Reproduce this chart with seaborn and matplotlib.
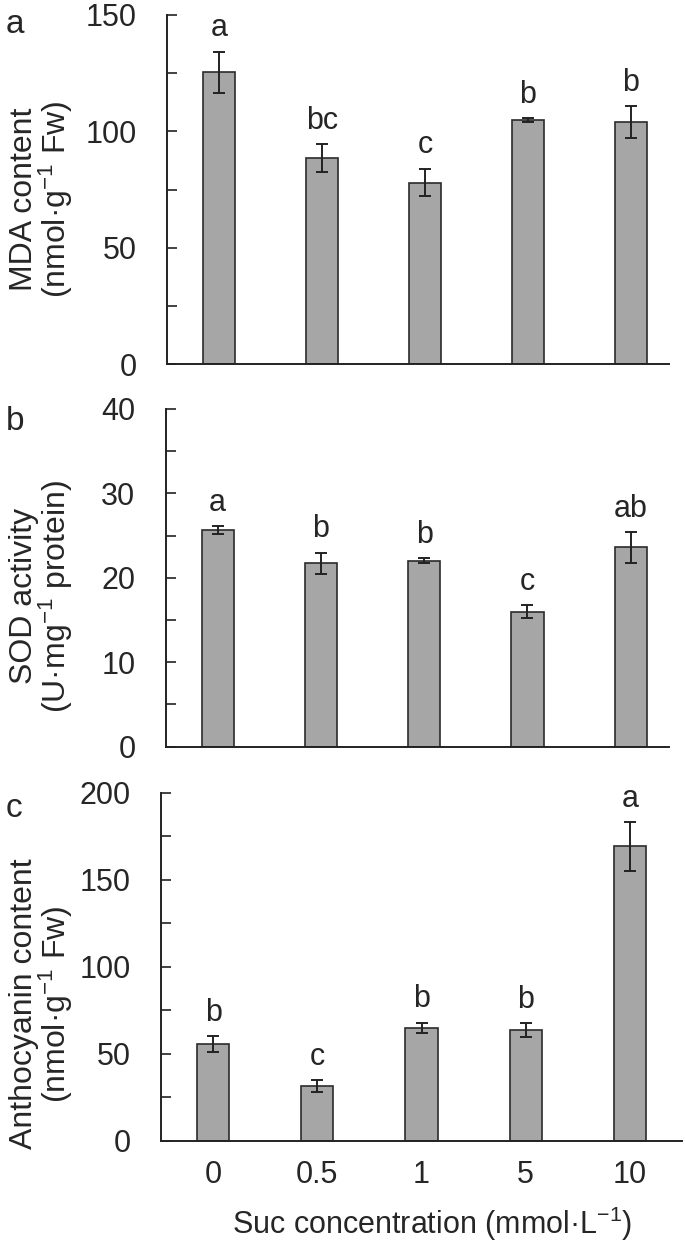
import matplotlib
matplotlib.use("Agg")
import matplotlib.pyplot as plt
import seaborn as sns
import pandas as pd
from matplotlib.ticker import MultipleLocator

# Data
conc = ["0", "0.5", "1", "5", "10"]

mda = [125.3, 88.5, 78.0, 104.8, 104.0]
mda_err = [9.0, 6.0, 6.0, 1.0, 6.7]
mda_sig = ["a", "bc", "c", "b", "b"]

sod = [25.7, 21.7, 22.0, 16.0, 23.6]
sod_err = [0.45, 1.3, 0.3, 0.8, 1.8]
sod_sig = ["a", "b", "b", "c", "ab"]

anth = [55.7, 31.4, 64.8, 63.4, 169.2]
anth_err = [4.5, 3.2, 3.0, 4.0, 14.0]
anth_sig = ["b", "c", "b", "b", "a"]

sns.set_theme(style="white")
plt.rcParams["font.family"] = ["Liberation Sans", "DejaVu Sans"]
plt.rcParams["mathtext.fontset"] = "custom"
plt.rcParams["mathtext.rm"] = "Liberation Sans"
plt.rcParams["mathtext.it"] = "Liberation Sans"

FS = 22
W, H = 685, 1241
fig = plt.figure(figsize=(W / 100, H / 100), dpi=100)


def rect(left, right, top, bottom):
    # pixel box -> figure fraction
    return [left / W, 1 - bottom / H, (right - left) / W, (bottom - top) / H]


panels = [
    # letter, values, errors, sig, ylabel, ymax, major, box, xlim, label y, letter baseline
    ("a", mda, mda_err, mda_sig, "MDA content\n(nmol·g$^{-1}$ Fw)", 150, 50,
     (167, 669, 15, 364), (-0.505, 4.37), 0.473, 33),
    ("b", sod, sod_err, sod_sig, "SOD activity\n(U·mg$^{-1}$ protein)", 40, 10,
     (166, 669, 409, 746.7), (-0.5, 4.37), 0.446, 430),
    ("c", anth, anth_err, anth_sig, "Anthocyanin content\n(nmol·g$^{-1}$ Fw)", 200, 50,
     (161, 682, 792.7, 1140.7), (-0.5, 4.5), 0.393, 817),
]

for letter, vals, errs, sig, ylab, ymax, major, box, xlim, ly, lb in panels:
    ax = fig.add_axes(rect(*box))
    df = pd.DataFrame({"conc": conc, "value": vals})
    sns.barplot(data=df, x="conc", y="value", order=conc, color="#a6a6a6",
                edgecolor="#2b2b2b", linewidth=1.2, width=0.31,
                saturation=1, errorbar=None, ax=ax)
    ax.errorbar(range(len(vals)), vals, yerr=errs, fmt="none",
                ecolor="#222222", elinewidth=1.4, capsize=4, capthick=1.4)
    for i, (v, e, s) in enumerate(zip(vals, errs, sig)):
        ax.annotate(s, (i, v + e), xytext=(0, 11), textcoords="offset points",
                    ha="center", va="baseline", fontsize=FS)

    ax.set_xlim(*xlim)
    ax.set_ylim(0, ymax)
    ax.yaxis.set_major_locator(MultipleLocator(major))
    ax.yaxis.set_minor_locator(MultipleLocator(major / 2))
    ax.tick_params(axis="y", which="both", direction="in", length=7,
                   width=1.2, color="#222222", labelsize=FS, pad=22, left=True)
    ax.tick_params(axis="x", length=0, labelsize=FS, pad=14)
    sns.despine(ax=ax)
    for sp in ["left", "bottom"]:
        ax.spines[sp].set_linewidth(1.4)
        ax.spines[sp].set_color("#222222")

    ax.set_ylabel(ylab, fontsize=23, linespacing=0.92)
    left, right = box[0], box[1]
    ax.yaxis.set_label_coords((75 - left) / (right - left), ly)
    ax.set_xlabel("")
    if letter != "c":
        ax.set_xticklabels([])
    fig.text(6 / W, 1 - lb / H, letter, fontsize=24, ha="left", va="baseline")

ax.set_xlabel("Suc concentration (mmol·L$^{-1}$)", fontsize=FS)
ax.xaxis.set_label_coords(0.52, -0.185)

fig.savefig("out.png", dpi=100)
